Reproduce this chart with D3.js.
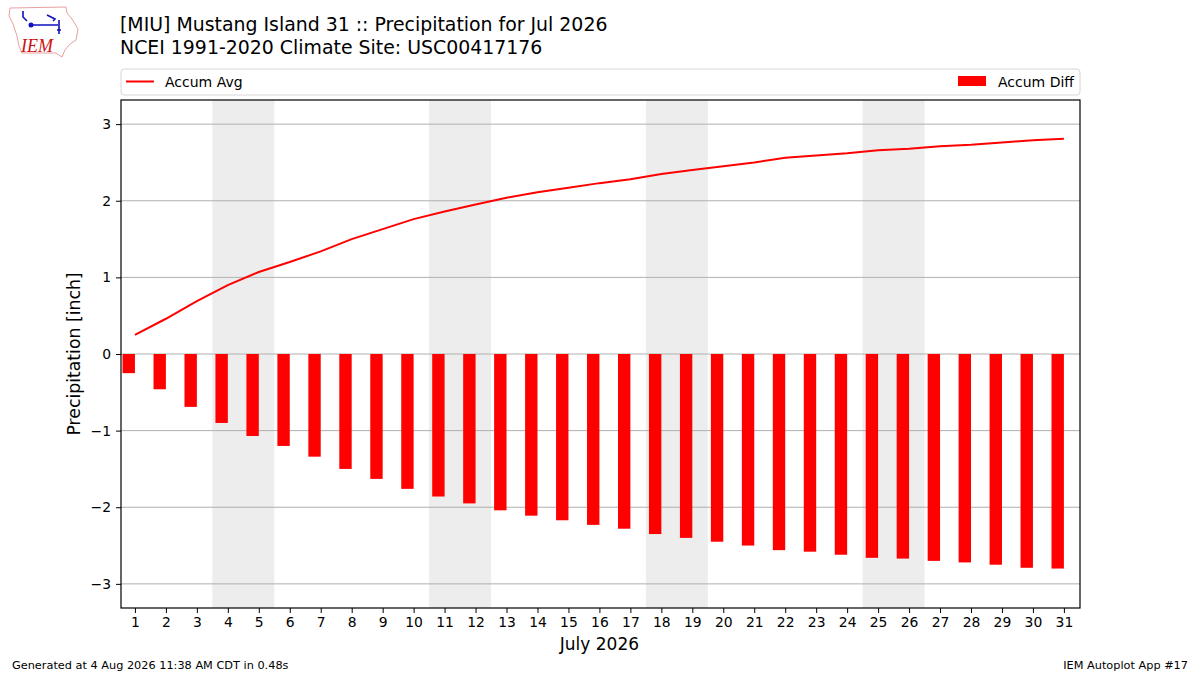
<!DOCTYPE html>
<html>
<head>
<meta charset="utf-8">
<script src="https://cdn.jsdelivr.net/npm/d3@7"></script>
<style>
  body { margin: 0; background: #fff; }
  svg { display: block; font-family: "DejaVu Sans", sans-serif; }
</style>
</head>
<body>
<svg id="chart" width="1200" height="675"></svg>
<script>
// days of July 2026
var days = d3.range(1, 32);

// accumulated climatology average precip [inch]
var accumAvg = [0.25, 0.46, 0.69, 0.90, 1.07, 1.20, 1.34, 1.50, 1.63, 1.76,
                1.86, 1.95, 2.04, 2.11, 2.17, 2.23, 2.28, 2.35, 2.40, 2.45,
                2.50, 2.56, 2.59, 2.62, 2.66, 2.68, 2.71, 2.73, 2.76, 2.79, 2.81];

// accumulated observed minus average [inch]
var accumDiff = [-0.25, -0.46, -0.69, -0.90, -1.07, -1.20, -1.34, -1.50, -1.63, -1.76,
                 -1.86, -1.95, -2.04, -2.11, -2.17, -2.23, -2.28, -2.35, -2.40, -2.45,
                 -2.50, -2.56, -2.58, -2.62, -2.66, -2.67, -2.70, -2.72, -2.75, -2.79, -2.80];

// weekend days shaded
var weekends = [[4, 5], [11, 12], [18, 19], [25, 26]];

var yTicks = [-3, -2, -1, 0, 1, 2, 3];

var svg = d3.select("#chart");

var pL = 121, pR = 1080, pT = 100, pB = 608;

var x = d3.scaleLinear().domain([0.55, 31.52]).range([pL, pR]);
var y = d3.scaleLinear().domain([-3.315, 3.315]).range([pB, pT]);

// weekend shading
svg.append("g").selectAll("rect")
    .data(weekends)
    .enter().append("rect")
    .attr("x", function (d) { return x(d[0] - 0.5); })
    .attr("width", function (d) { return x(d[1] + 0.5) - x(d[0] - 0.5); })
    .attr("y", pT)
    .attr("height", pB - pT)
    .attr("fill", "#ededed");

// grid
svg.append("g").selectAll("line")
    .data(yTicks)
    .enter().append("line")
    .attr("x1", pL).attr("x2", pR)
    .attr("y1", function (d) { return y(d); })
    .attr("y2", function (d) { return y(d); })
    .attr("stroke", "#b0b0b0")
    .attr("stroke-width", 1);

// bars (right edge on the day)
svg.append("g").selectAll("rect")
    .data(days)
    .enter().append("rect")
    .attr("x", function (d) { return x(d - 0.4); })
    .attr("width", function (d) { return x(d) - x(d - 0.4); })
    .attr("y", function (d, i) { return y(Math.max(0, accumDiff[i])); })
    .attr("height", function (d, i) { return Math.abs(y(accumDiff[i]) - y(0)); })
    .attr("fill", "#ff0000");

// line
var line = d3.line()
    .x(function (d, i) { return x(days[i]); })
    .y(function (d) { return y(d); });

svg.append("path")
    .datum(accumAvg)
    .attr("d", line)
    .attr("fill", "none")
    .attr("stroke", "#ff0000")
    .attr("stroke-width", 2);

// axes
var xAxis = svg.append("g")
    .attr("transform", "translate(0," + pB + ")")
    .call(d3.axisBottom(x).tickValues(days).tickFormat(d3.format("d")).tickSizeOuter(0).tickSize(5).tickPadding(4));

var yAxis = svg.append("g")
    .attr("transform", "translate(" + pL + ",0)")
    .call(d3.axisLeft(y).tickValues(yTicks).tickFormat(function (d) { return d < 0 ? "\u2212" + Math.abs(d) : d; })
        .tickSizeOuter(0).tickSize(5).tickPadding(5));

[xAxis, yAxis].forEach(function (a) {
    a.select(".domain").remove();
    a.selectAll("text").attr("font-size", 13.9).attr("fill", "#000").attr("font-family", "DejaVu Sans");
    a.selectAll("line").attr("stroke", "#000").attr("stroke-width", 1);
});

// frame
svg.append("rect")
    .attr("x", pL).attr("y", pT)
    .attr("width", pR - pL).attr("height", pB - pT)
    .attr("fill", "none").attr("stroke", "#000").attr("stroke-width", 1.2);

// axis labels
svg.append("text")
    .attr("x", x(16)).attr("y", 650)
    .attr("text-anchor", "middle").attr("font-size", 17)
    .text("July 2026");

svg.append("text")
    .attr("transform", "translate(80," + ((pT + pB) / 2) + ") rotate(-90)")
    .attr("text-anchor", "middle").attr("font-size", 17.3)
    .text("Precipitation [inch]");

// titles
svg.append("text").attr("x", 120).attr("y", 31).attr("font-size", 18.9)
    .text("[MIU] Mustang Island 31 :: Precipitation for Jul 2026");
svg.append("text").attr("x", 120).attr("y", 54).attr("font-size", 18.9)
    .text("NCEI 1991-2020 Climate Site: USC00417176");

// legend
svg.append("rect")
    .attr("x", 121).attr("y", 69).attr("width", 959).attr("height", 26)
    .attr("rx", 3).attr("fill", "#fff").attr("stroke", "#d6d6d6").attr("stroke-width", 1);
svg.append("line")
    .attr("x1", 126).attr("x2", 154).attr("y1", 81.5).attr("y2", 81.5)
    .attr("stroke", "#ff0000").attr("stroke-width", 2);
svg.append("text").attr("x", 165).attr("y", 86.5).attr("font-size", 14).text("Accum Avg");
svg.append("rect")
    .attr("x", 958).attr("y", 76).attr("width", 28).attr("height", 10).attr("fill", "#ff0000");
svg.append("text").attr("x", 1074).attr("y", 86.5).attr("font-size", 14)
    .attr("text-anchor", "end").text("Accum Diff");

// footer
svg.append("text").attr("x", 12).attr("y", 669).attr("font-size", 11.3)
    .text("Generated at 4 Aug 2026 11:38 AM CDT in 0.48s");
svg.append("text").attr("x", 1188).attr("y", 669).attr("font-size", 11.3)
    .attr("text-anchor", "end").text("IEM Autoplot App #17");

// logo (rough)
var logo = svg.append("g");
logo.append("path")
    .attr("d", "M10,8 L66,7 L67,13 L72,19 L78,29 L76,40 L70,44 L65,50 L62,57 L56,53 L22,53 L19,46 L17,36 L13,24 L9,16 Z")
    .attr("fill", "#fff").attr("stroke", "#e8a0a0").attr("stroke-width", 1);
logo.append("path")
    .attr("d", "M23,11 L23,17 L27,21 M31,25 L58,25 M47,15 L55,19 L53,21 M59,20 L59,34 M57,30 L61,30")
    .attr("fill", "none").attr("stroke", "#1010c0").attr("stroke-width", 1.6);
logo.append("circle").attr("cx", 31).attr("cy", 25).attr("r", 2.5).attr("fill", "#1010c0");
logo.append("text").attr("x", 21).attr("y", 52).attr("font-size", 18)
    .attr("font-family", "Liberation Serif").attr("font-style", "italic")
    .attr("fill", "#d01010").text("IEM");
</script>
</body>
</html>
